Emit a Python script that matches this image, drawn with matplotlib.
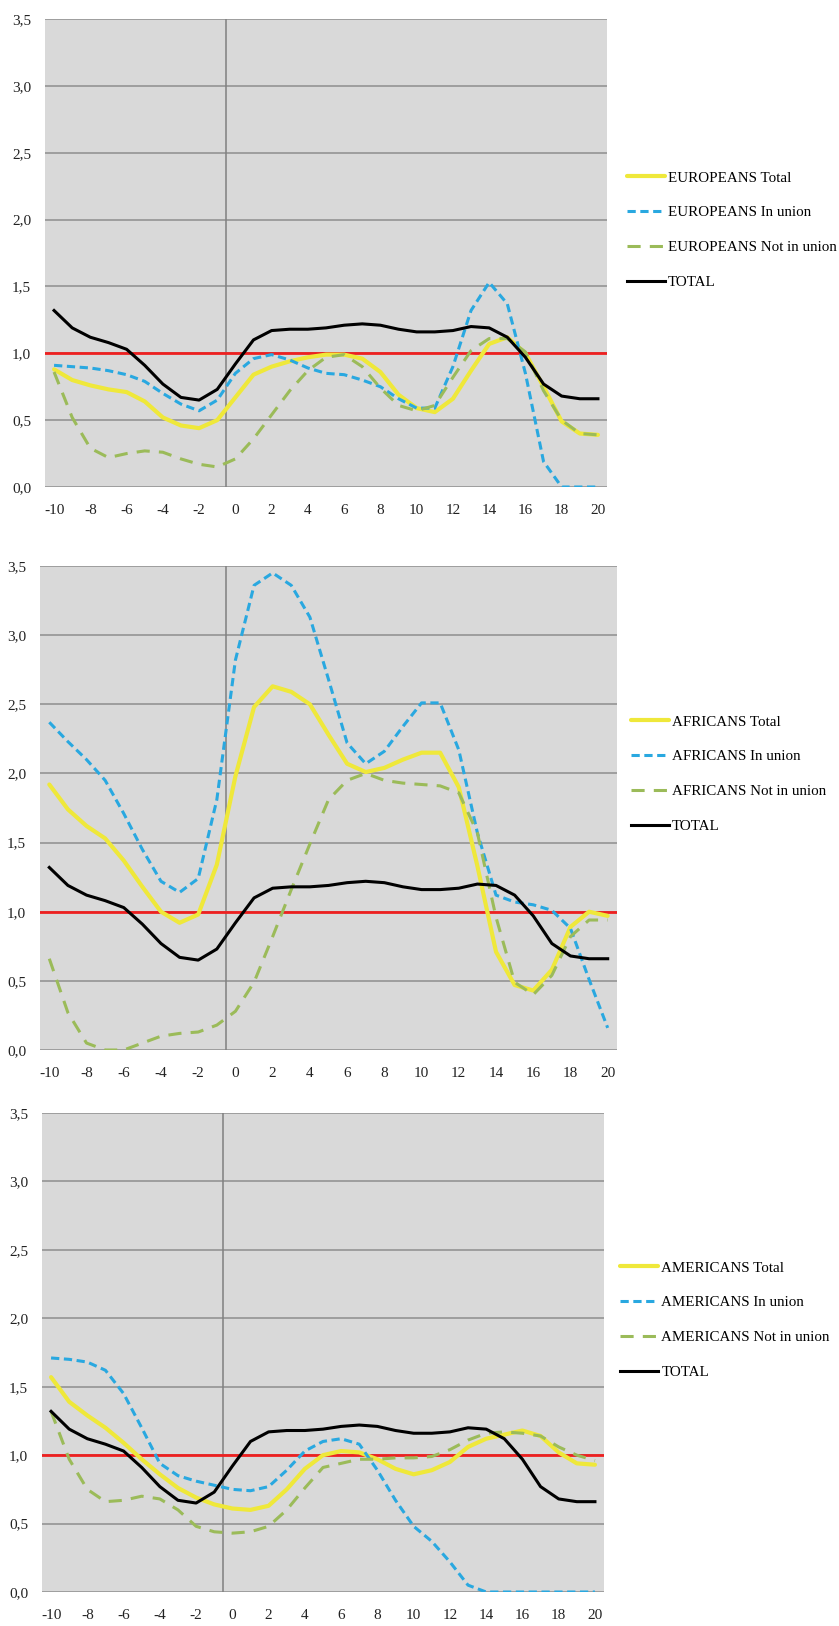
import matplotlib
matplotlib.use("Agg")
import matplotlib.pyplot as plt
from matplotlib.ticker import FixedLocator, FuncFormatter

plt.rcParams['font.family'] = ['Liberation Serif', 'DejaVu Serif']

years = list(range(-10, 21))

total_all = [1.32, 1.19, 1.12, 1.08, 1.03, 0.91, 0.77, 0.67, 0.65, 0.73, 0.92,
             1.10, 1.17, 1.18, 1.18, 1.19, 1.21, 1.22, 1.21, 1.18, 1.16,
             1.16, 1.17, 1.20, 1.19, 1.12, 0.97, 0.77, 0.68, 0.66, 0.66]

eu_total = [0.88, 0.80, 0.76, 0.73, 0.71, 0.64, 0.52, 0.46, 0.44, 0.50, 0.67,
            0.84, 0.90, 0.94, 0.97, 0.99, 0.99, 0.96, 0.86, 0.69, 0.59,
            0.56, 0.66, 0.87, 1.07, 1.12, 1.00, 0.75, 0.49, 0.40, 0.39]
eu_union = [0.91, 0.90, 0.89, 0.87, 0.84, 0.79, 0.70, 0.62, 0.57, 0.65, 0.85,
            0.96, 0.99, 0.95, 0.89, 0.85, 0.84, 0.80, 0.75, 0.66, 0.59,
            0.59, 0.90, 1.32, 1.53, 1.37, 0.85, 0.19, 0.00, 0.00, 0.00]
eu_not = [0.86, 0.52, 0.29, 0.22, 0.25, 0.27, 0.26, 0.21, 0.17, 0.15, 0.21,
          0.36, 0.54, 0.72, 0.87, 0.97, 0.99, 0.90, 0.74, 0.61, 0.57,
          0.61, 0.82, 1.02, 1.11, 1.11, 1.01, 0.72, 0.50, 0.40, 0.39]

af_total = [1.92, 1.74, 1.62, 1.53, 1.37, 1.18, 1.00, 0.92, 0.98, 1.34, 1.98,
            2.48, 2.63, 2.59, 2.50, 2.28, 2.07, 2.01, 2.04, 2.10, 2.15,
            2.15, 1.90, 1.33, 0.71, 0.47, 0.43, 0.58, 0.89, 1.00, 0.97]
af_union = [2.37, 2.23, 2.10, 1.95, 1.71, 1.45, 1.22, 1.14, 1.24, 1.81, 2.82,
            3.36, 3.45, 3.36, 3.13, 2.68, 2.22, 2.07, 2.16, 2.34, 2.51,
            2.51, 2.17, 1.57, 1.12, 1.07, 1.05, 1.01, 0.88, 0.51, 0.16]
af_not = [0.66, 0.27, 0.05, 0.00, 0.00, 0.05, 0.10, 0.12, 0.13, 0.18, 0.28,
          0.49, 0.82, 1.16, 1.49, 1.81, 1.95, 2.00, 1.95, 1.93, 1.92,
          1.91, 1.86, 1.57, 0.96, 0.49, 0.40, 0.54, 0.82, 0.94, 0.94]

am_total = [1.57, 1.39, 1.29, 1.20, 1.09, 0.97, 0.86, 0.76, 0.69, 0.64, 0.61,
            0.60, 0.63, 0.75, 0.90, 1.00, 1.03, 1.02, 0.97, 0.90, 0.86,
            0.89, 0.95, 1.06, 1.12, 1.15, 1.18, 1.14, 1.02, 0.94, 0.93]
am_union = [1.71, 1.70, 1.68, 1.62, 1.45, 1.20, 0.94, 0.85, 0.81, 0.78, 0.75,
            0.74, 0.77, 0.89, 1.03, 1.10, 1.12, 1.08, 0.89, 0.67, 0.48,
            0.37, 0.22, 0.05, 0.00, 0.00, 0.00, 0.00, 0.00, 0.00, 0.00]
am_not = [1.32, 0.97, 0.75, 0.66, 0.67, 0.70, 0.68, 0.60, 0.48, 0.44, 0.43,
          0.44, 0.48, 0.60, 0.76, 0.91, 0.94, 0.97, 0.97, 0.98, 0.98,
          0.99, 1.04, 1.11, 1.16, 1.17, 1.16, 1.14, 1.06, 1.00, 0.96]

groups = ['EUROPEANS', 'AFRICANS', 'AMERICANS']
series = {
    'EUROPEANS': (eu_total, eu_union, eu_not),
    'AFRICANS': (af_total, af_union, af_not),
    'AMERICANS': (am_total, am_union, am_not),
}

y_ticks = [0.0, 0.5, 1.0, 1.5, 2.0, 2.5, 3.0, 3.5]
x_ticks = list(range(-10, 21, 2))

W, H = 839, 1626
# axes boxes in pixels: left, top, right, bottom
boxes = [(45, 19, 607, 487), (40, 566, 617, 1050), (42, 1113, 604, 1592)]
legend_anchor = [(627, 171), (631, 715), (620, 1261)]

YELLOW = '#EFE83A'
BLUE = '#29A8E0'
GREEN = '#9BBB59'
RED = '#EE2020'
BG = '#D9D9D9'
GRID = '#8E8E8E'

fig = plt.figure(figsize=(W / 100, H / 100), dpi=100)

for g, (l, t, r, b), (lx, ly) in zip(groups, boxes, legend_anchor):
    ax = fig.add_axes([l / W, 1 - b / H, (r - l) / W, (b - t) / H])
    ax.set_facecolor(BG)
    for s in ax.spines.values():
        s.set_visible(False)
    ax.set_xlim(-10.5, 20.5)
    ax.set_ylim(0, 3.5)
    ax.yaxis.set_major_locator(FixedLocator(y_ticks))
    ax.yaxis.set_major_formatter(FuncFormatter(lambda v, p: f"{v:.1f}".replace('.', ',')))
    ax.xaxis.set_major_locator(FixedLocator(x_ticks))
    ax.xaxis.set_major_formatter(FuncFormatter(lambda v, p: f"{int(v)}"))
    ax.tick_params(axis='both', length=0, labelsize=11, colors='#222222')
    ax.tick_params(axis='y', pad=10)
    ax.tick_params(axis='x', pad=12)
    ax.grid(axis='y', color=GRID, linewidth=1.1, zorder=0)
    ax.set_axisbelow(True)
    ax.axvline(-0.5, color='#808080', linewidth=1.1, zorder=1)
    ax.axhline(1.0, color=RED, linewidth=2.0, zorder=2)

    tot, uni, notu = series[g]
    ax.plot(years, tot, color=YELLOW, linewidth=3.0, solid_capstyle='round',
            label=f'{g} Total', zorder=3)
    ax.plot(years, uni, color=BLUE, linewidth=2.2, linestyle=(0, (2.7, 1.5)),
            label=f'{g} In union', zorder=4)
    ax.plot(years, notu, color=GREEN, linewidth=2.2, linestyle=(0, (4.3, 3.0)),
            label=f'{g} Not in union', zorder=5)
    ax.plot(years, total_all, color='black', linewidth=2.2, label='TOTAL', zorder=6)

    ax.legend(loc='upper left', bbox_to_anchor=(lx / W, 1 - ly / H),
              bbox_transform=fig.transFigure, frameon=False, fontsize=10.8,
              borderpad=0, borderaxespad=0, handlelength=2.55, handletextpad=0.2,
              labelspacing=1.42)

fig.savefig('out.png', dpi=100)
